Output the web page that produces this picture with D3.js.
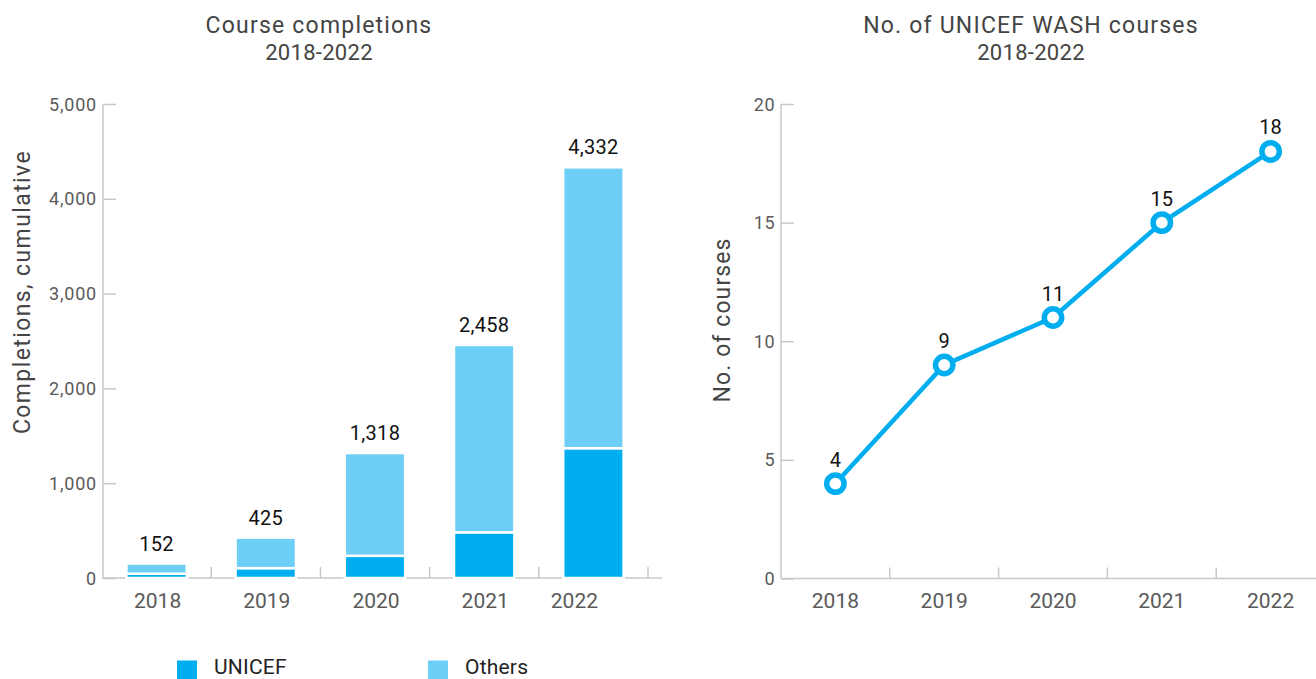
<!DOCTYPE html>
<html>
<head>
<meta charset="utf-8">
<script src="https://cdn.jsdelivr.net/npm/d3@7"></script>
<style>
  html, body { margin: 0; padding: 0; background: #fff; }
  svg { display: block; font-family: Roboto, "Liberation Sans", sans-serif; }
</style>
</head>
<body>
<svg id="chart" width="1316" height="679"></svg>
<script>
// ---- Data ----
const years = ["2018", "2019", "2020", "2021", "2022"];
const unicefCompletions = [45, 104, 234, 482, 1369];
const totalCompletions = [152, 425, 1318, 2458, 4332];
const othersCompletions = totalCompletions.map((t, i) => t - unicefCompletions[i]);
const completionTicks = [0, 1000, 2000, 3000, 4000, 5000];
const courseCounts = [4, 9, 11, 15, 18];
const courseTicks = [0, 5, 10, 15, 20];
const seriesNames = ["UNICEF", "Others"];

const cDark = "#00AEEF", cLight = "#6DCFF6";
const axisGrey = "#c8c8c8", tickText = "#5a5a5a", titleCol = "#444";

const svg = d3.select("#chart");

function title(g, x, lines) {
  g.append("text").attr("x", x).attr("y", 33).attr("text-anchor", "middle")
    .attr("font-size", 23).attr("letter-spacing", 1.2).attr("fill", titleCol).text(lines[0]);
  g.append("text").attr("x", x).attr("y", 60).attr("text-anchor", "middle")
    .attr("font-size", 22).attr("letter-spacing", 0.3).attr("fill", titleCol).text(lines[1]);
}

// ================= LEFT CHART =================
const L = { x0: 102, x1: 648, axisEnd: 662, yTop: 104, yBase: 578 };
const xL = d3.scaleBand().domain(years).range([L.x0, L.x1]).paddingInner(0.447).paddingOuter(0.2235);
const xLStep = d3.scaleBand().domain(years).range([L.x0, L.x1]);
const yL = d3.scaleLinear().domain([0, 5000]).range([L.yBase, L.yTop]);

const gL = svg.append("g");
title(gL, 319, ["Course completions", "2018-2022"]);

// y axis
const yAxisL = d3.axisRight(yL).tickValues(completionTicks).tickSize(13).tickFormat(() => "");
const gyL = gL.append("g").attr("transform", `translate(${L.x0 + 1},0)`).call(yAxisL);
gyL.select(".domain").attr("stroke", axisGrey).attr("stroke-width", 1.5).attr("d", `M0,${L.yTop}V${L.yBase}`);
gyL.selectAll(".tick line").attr("stroke", axisGrey).attr("stroke-width", 1.5);
gL.selectAll(".ylab").data(completionTicks).join("text")
  .attr("x", 97).attr("y", d => yL(d) + 6.5).attr("text-anchor", "end")
  .attr("font-size", 18).attr("letter-spacing", 0.8).attr("fill", tickText).text(d => d3.format(",")(d));

gL.append("text").attr("transform", `translate(30,${292}) rotate(-90)`)
  .attr("text-anchor", "middle").attr("font-size", 23).attr("letter-spacing", 1.4).attr("fill", titleCol)
  .text("Completions, cumulative");

// x axis baseline + boundary ticks
gL.append("line").attr("x1", L.x0).attr("x2", L.axisEnd).attr("y1", L.yBase).attr("y2", L.yBase)
  .attr("stroke", axisGrey).attr("stroke-width", 1.5);
gL.selectAll(".xtickL").data(years).join("line")
  .attr("x1", d => xLStep(d) + xLStep.bandwidth()).attr("x2", d => xLStep(d) + xLStep.bandwidth())
  .attr("y1", L.yBase).attr("y2", L.yBase - 11).attr("stroke", axisGrey).attr("stroke-width", 1.5);
gL.selectAll(".xlabL").data(years).join("text")
  .attr("x", (d, i) => xL(d) + xL.bandwidth() / 2 + (i === years.length - 1 ? -19 : 1))
  .attr("y", 608).attr("text-anchor", "middle").attr("font-size", 21).attr("fill", tickText).text(d => d);

// stacked bars
const stackData = years.map((y, i) => ({ year: y, UNICEF: unicefCompletions[i], Others: othersCompletions[i] }));
const stacked = d3.stack().keys(seriesNames)(stackData);
const colors = { UNICEF: cDark, Others: cLight };
stacked.forEach(layer => {
  gL.selectAll(".bar-" + layer.key).data(layer).join("rect")
    .attr("x", d => xL(d.data.year))
    .attr("width", xL.bandwidth())
    .attr("y", d => yL(d[1]))
    .attr("height", d => Math.max(0, yL(d[0]) - yL(d[1])))
    .attr("fill", colors[layer.key])
    .attr("stroke", "#fff").attr("stroke-width", 2.5);
});
gL.selectAll(".total").data(years).join("text")
  .attr("x", d => xL(d) + xL.bandwidth() / 2)
  .attr("y", (d, i) => yL(totalCompletions[i]) - 13)
  .attr("text-anchor", "middle").attr("font-size", 20).attr("letter-spacing", 0.3).attr("fill", "#111")
  .text((d, i) => d3.format(",")(totalCompletions[i]));

// legend
const legendX = [177, 428];
seriesNames.forEach((k, i) => {
  gL.append("rect").attr("x", legendX[i]).attr("y", 660.5).attr("width", 20).attr("height", 18.5).attr("fill", colors[k]);
  gL.append("text").attr("x", legendX[i] + 37).attr("y", 673.5).attr("font-size", 21).attr("letter-spacing", 0.2)
    .attr("fill", "#222").text(k);
});

// ================= RIGHT CHART =================
const R = { x0: 781, x1: 1325, axisEnd: 1316, yTop: 104, yBase: 578.5 };
const xR = d3.scaleBand().domain(years).range([R.x0, R.x1]);
const yR = d3.scaleLinear().domain([0, 20]).range([R.yBase, R.yTop]);
const gR = svg.append("g");

title(gR, 1031, ["No. of UNICEF WASH courses", "2018-2022"]);

const yAxisR = d3.axisRight(yR).tickValues(courseTicks).tickSize(13).tickFormat(() => "");
const gyR = gR.append("g").attr("transform", `translate(${R.x0},0)`).call(yAxisR);
gyR.select(".domain").attr("stroke", axisGrey).attr("stroke-width", 1.5).attr("d", `M0,${R.yTop}V${R.yBase}`);
gyR.selectAll(".tick line").attr("stroke", axisGrey).attr("stroke-width", 1.5);
gR.selectAll(".ylabR").data(courseTicks).join("text")
  .attr("x", 775).attr("y", d => yR(d) + 6.5).attr("text-anchor", "end")
  .attr("font-size", 18).attr("letter-spacing", 0.5).attr("fill", tickText).text(d => d);

gR.append("text").attr("transform", `translate(730,${320}) rotate(-90)`)
  .attr("text-anchor", "middle").attr("font-size", 23).attr("letter-spacing", 1.1).attr("fill", titleCol)
  .text("No. of courses");

gR.append("line").attr("x1", R.x0).attr("x2", R.axisEnd).attr("y1", R.yBase).attr("y2", R.yBase)
  .attr("stroke", axisGrey).attr("stroke-width", 1.5);
gR.selectAll(".xtickR").data(years.slice(0, -1)).join("line")
  .attr("x1", d => xR(d) + xR.bandwidth()).attr("x2", d => xR(d) + xR.bandwidth())
  .attr("y1", R.yBase).attr("y2", R.yBase - 11).attr("stroke", axisGrey).attr("stroke-width", 1.5);
gR.selectAll(".xlabR").data(years).join("text")
  .attr("x", d => xR(d) + xR.bandwidth() / 2)
  .attr("y", 608).attr("text-anchor", "middle").attr("font-size", 21).attr("fill", tickText).text(d => d);

const pts = years.map((y, i) => ({ year: y, v: courseCounts[i] }));
const line = d3.line().x(d => xR(d.year) + xR.bandwidth() / 2).y(d => yR(d.v));
gR.append("path").datum(pts).attr("d", line).attr("fill", "none")
  .attr("stroke", cDark).attr("stroke-width", 4.5);
gR.selectAll(".pt").data(pts).join("circle")
  .attr("cx", d => xR(d.year) + xR.bandwidth() / 2).attr("cy", d => yR(d.v))
  .attr("r", 8.7).attr("fill", "#fff").attr("stroke", cDark).attr("stroke-width", 5.5);
gR.selectAll(".ptlab").data(pts).join("text")
  .attr("x", d => xR(d.year) + xR.bandwidth() / 2).attr("y", d => yR(d.v) - 17)
  .attr("text-anchor", "middle").attr("font-size", 20).attr("fill", "#111").text(d => d.v);
</script>
</body>
</html>
